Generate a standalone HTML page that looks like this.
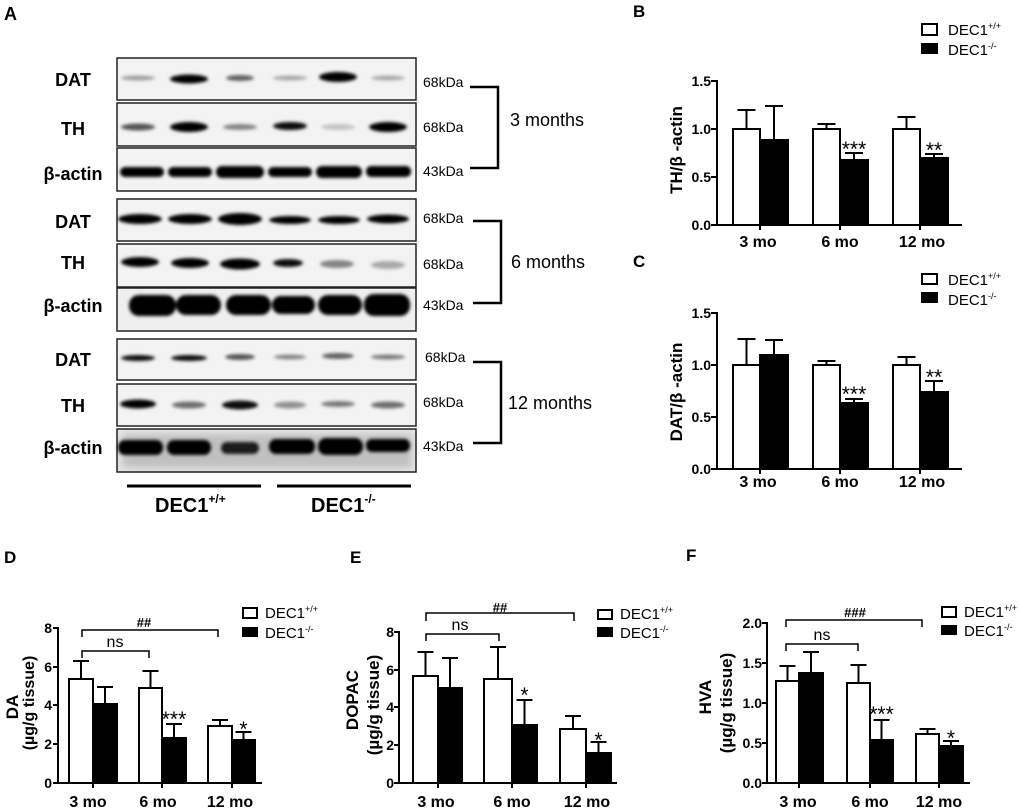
<!DOCTYPE html>
<html><head><meta charset="utf-8"><style>
html,body{margin:0;padding:0;background:#fff;}
svg{display:block;}
text{font-family:"Liberation Sans",Arial,sans-serif;fill:#000;}
.b{font-weight:bold;}
</style></head><body>
<svg width="1020" height="810" viewBox="0 0 1020 810" xmlns="http://www.w3.org/2000/svg">
<defs>
<filter id="bl" x="-50%" y="-150%" width="200%" height="400%"><feGaussianBlur stdDeviation="1.6"/></filter>
<filter id="bl2" x="-50%" y="-100%" width="200%" height="300%"><feGaussianBlur stdDeviation="4"/></filter>
</defs>

<!-- ============ PANEL A ============ -->
<text x="4" y="20" class="b" font-size="18">A</text>

<g stroke="#222" stroke-width="1.5" fill="#f3f3f3">
<rect x="117" y="58" width="299" height="42"/>
<rect x="117" y="103" width="299" height="43"/>
<rect x="117" y="148" width="299" height="43"/>
<rect x="117" y="199" width="299" height="42"/>
<rect x="117" y="244" width="299" height="43"/>
<rect x="117" y="288" width="299" height="43" fill="#efefef"/>
<rect x="117" y="339" width="299" height="41"/>
<rect x="117" y="384" width="299" height="42"/>
<rect x="117" y="429" width="299" height="43" fill="#e6e6e6"/>
</g>

<g filter="url(#bl)" fill="#000">
<!-- 3mo DAT -->
<ellipse cx="138" cy="78" rx="17" ry="2.5" opacity="0.35"/>
<ellipse cx="189" cy="79" rx="19" ry="4.5"/>
<ellipse cx="240" cy="78" rx="14" ry="3" opacity="0.6"/>
<ellipse cx="290" cy="78" rx="17" ry="2.5" opacity="0.3"/>
<ellipse cx="338" cy="77" rx="19" ry="5"/>
<ellipse cx="388" cy="78" rx="17" ry="2.5" opacity="0.3"/>
<!-- 3mo TH -->
<ellipse cx="138" cy="127" rx="17" ry="3.5" opacity="0.65"/>
<ellipse cx="189" cy="127" rx="19" ry="5"/>
<ellipse cx="240" cy="127" rx="17" ry="3" opacity="0.45"/>
<ellipse cx="290" cy="126" rx="17" ry="4" opacity="0.95"/>
<ellipse cx="338" cy="127" rx="17" ry="3" opacity="0.2"/>
<ellipse cx="388" cy="127" rx="19" ry="5"/>
<!-- 3mo actin -->
<rect x="120" y="167" width="44" height="10" rx="5"/>
<rect x="168" y="167" width="44" height="10" rx="5"/>
<rect x="216" y="166" width="48" height="12" rx="6"/>
<rect x="268" y="167" width="44" height="10" rx="5"/>
<rect x="316" y="166" width="46" height="12" rx="6"/>
<rect x="366" y="166" width="45" height="11" rx="5"/>
<!-- 6mo DAT -->
<ellipse cx="140" cy="219" rx="22" ry="5"/>
<ellipse cx="190" cy="219" rx="22" ry="5"/>
<ellipse cx="240" cy="219" rx="22" ry="6"/>
<ellipse cx="290" cy="220" rx="21" ry="4"/>
<ellipse cx="339" cy="220" rx="21" ry="4"/>
<ellipse cx="388" cy="219" rx="21" ry="4.5"/>
<!-- 6mo TH -->
<ellipse cx="140" cy="262" rx="19" ry="5"/>
<ellipse cx="190" cy="263" rx="19" ry="5"/>
<ellipse cx="240" cy="264" rx="20" ry="5.5"/>
<ellipse cx="288" cy="263" rx="15" ry="4" opacity="0.95"/>
<ellipse cx="337" cy="264" rx="17" ry="4" opacity="0.45"/>
<ellipse cx="388" cy="265" rx="17" ry="4" opacity="0.3"/>
<!-- 6mo actin -->
<rect x="129" y="295" width="47" height="21" rx="10"/>
<rect x="176" y="295" width="45" height="20" rx="10"/>
<rect x="226" y="295" width="45" height="20" rx="10"/>
<rect x="272" y="296" width="43" height="18" rx="9"/>
<rect x="318" y="295" width="44" height="20" rx="10"/>
<rect x="364" y="294" width="46" height="22" rx="10"/>
<!-- 12mo DAT -->
<ellipse cx="138" cy="358" rx="17" ry="3" opacity="0.95"/>
<ellipse cx="189" cy="358" rx="18" ry="3" opacity="0.95"/>
<ellipse cx="240" cy="357" rx="15" ry="3" opacity="0.65"/>
<ellipse cx="290" cy="357" rx="16" ry="2.5" opacity="0.45"/>
<ellipse cx="338" cy="356" rx="16" ry="3" opacity="0.6"/>
<ellipse cx="388" cy="357" rx="17" ry="2.5" opacity="0.5"/>
<!-- 12mo TH -->
<ellipse cx="138" cy="404" rx="18" ry="4.5"/>
<ellipse cx="189" cy="405" rx="17" ry="3.5" opacity="0.55"/>
<ellipse cx="240" cy="405" rx="18" ry="4.5" opacity="0.95"/>
<ellipse cx="290" cy="405" rx="16" ry="3.5" opacity="0.4"/>
<ellipse cx="338" cy="404" rx="17" ry="3" opacity="0.5"/>
<ellipse cx="388" cy="405" rx="17" ry="3.5" opacity="0.55"/>
<!-- 12mo actin -->
<rect x="118" y="440" width="45" height="15" rx="7"/>
<rect x="167" y="440" width="44" height="15" rx="7"/>
<rect x="221" y="442" width="38" height="12" rx="6" opacity="0.85"/>
<rect x="269" y="439" width="46" height="15" rx="7"/>
<rect x="318" y="438" width="45" height="17" rx="8"/>
<rect x="366" y="439" width="44" height="13" rx="6"/>
</g>
<g filter="url(#bl2)" fill="#000" opacity="0.16">
<rect x="122" y="434" width="290" height="34"/>
</g>

<g class="b" font-size="18" text-anchor="middle" font-weight="bold">
<text x="73" y="86">DAT</text>
<text x="73" y="135">TH</text>
<text x="73" y="180">β-actin</text>
<text x="73" y="228">DAT</text>
<text x="73" y="269">TH</text>
<text x="73" y="312">β-actin</text>
<text x="73" y="366">DAT</text>
<text x="73" y="412">TH</text>
<text x="73" y="454">β-actin</text>
</g>

<g font-size="14">
<text x="423" y="87">68kDa</text>
<text x="423" y="132">68kDa</text>
<text x="423" y="176">43kDa</text>
<text x="423" y="223">68kDa</text>
<text x="423" y="269">68kDa</text>
<text x="423" y="310">43kDa</text>
<text x="425" y="362">68kDa</text>
<text x="423" y="407">68kDa</text>
<text x="423" y="451">43kDa</text>
</g>

<g stroke="#000" stroke-width="2.5" fill="none">
<polyline points="470,87 498,87 498,168 470,168"/>
<polyline points="473,221 501,221 501,303 473,303"/>
<polyline points="473,362 501,362 501,443 473,443"/>
</g>
<g font-size="18">
<text x="510" y="126">3 months</text>
<text x="511" y="268">6 months</text>
<text x="508" y="409">12 months</text>
</g>

<g stroke="#000" stroke-width="3">
<line x1="127" y1="486" x2="261" y2="486"/>
<line x1="277" y1="486" x2="411" y2="486"/>
</g>
<text x="155" y="512" class="b" font-size="20">DEC1<tspan font-size="12" dy="-9">+/+</tspan></text>
<text x="311" y="512" class="b" font-size="20">DEC1<tspan font-size="12" dy="-9">-/-</tspan></text>

<!-- ============ PANEL B ============ -->
<text x="633" y="17" class="b" font-size="17">B</text>
<rect x="922" y="24" width="15" height="11" fill="#fff" stroke="#000" stroke-width="2"/>
<rect x="921" y="43" width="17" height="11" fill="#000"/>
<text x="948" y="35" font-size="15">DEC1<tspan font-size="9" dy="-6">+/+</tspan></text>
<text x="948" y="55" font-size="15">DEC1<tspan font-size="9" dy="-6">-/-</tspan></text>

<g stroke="#000" stroke-width="2" fill="none">
<line x1="717" y1="80" x2="717" y2="226"/>
<line x1="716" y1="225" x2="962" y2="225"/>
<line x1="711" y1="81" x2="717" y2="81"/>
<line x1="711" y1="129" x2="717" y2="129"/>
<line x1="711" y1="177" x2="717" y2="177"/>
<line x1="711" y1="225" x2="717" y2="225"/>
<line x1="760" y1="225" x2="760" y2="230"/>
<line x1="840" y1="225" x2="840" y2="230"/>
<line x1="920" y1="225" x2="920" y2="230"/>
<line x1="746.5" y1="129" x2="746.5" y2="110"/><line x1="737.5" y1="110" x2="755.5" y2="110"/>
<line x1="774" y1="140" x2="774" y2="106"/><line x1="765" y1="106" x2="783" y2="106"/>
<line x1="826.5" y1="129" x2="826.5" y2="124"/><line x1="817.5" y1="124" x2="835.5" y2="124"/>
<line x1="854" y1="160" x2="854" y2="153"/><line x1="845" y1="153" x2="863" y2="153"/>
<line x1="906.5" y1="129" x2="906.5" y2="117"/><line x1="897.5" y1="117" x2="915.5" y2="117"/>
<line x1="934" y1="158" x2="934" y2="154"/><line x1="925" y1="154" x2="943" y2="154"/>
</g>
<g stroke="#000" stroke-width="2">
<rect x="733" y="129" width="27" height="96" fill="#fff"/>
<rect x="760" y="140" width="28" height="85" fill="#000"/>
<rect x="813" y="129" width="27" height="96" fill="#fff"/>
<rect x="840" y="160" width="28" height="65" fill="#000"/>
<rect x="893" y="129" width="27" height="96" fill="#fff"/>
<rect x="920" y="158" width="28" height="67" fill="#000"/>
</g>
<g class="b" font-size="14" text-anchor="end" font-weight="bold">
<text x="711" y="86">1.5</text>
<text x="711" y="134">1.0</text>
<text x="711" y="182">0.5</text>
<text x="711" y="230">0.0</text>
</g>
<g class="b" font-size="16" text-anchor="middle" font-weight="bold">
<text x="758" y="247">3 mo</text>
<text x="840" y="247">6 mo</text>
<text x="922" y="247">12 mo</text>
</g>
<text transform="translate(682,150) rotate(-90)" text-anchor="middle" class="b" font-size="17" font-weight="bold">TH/β -actin</text>
<g font-size="21" text-anchor="middle">
<text x="854" y="156">***</text>
<text x="934" y="157">**</text>
</g>

<!-- ============ PANEL C ============ -->
<text x="633" y="267" class="b" font-size="17">C</text>
<rect x="922" y="274" width="15" height="10" fill="#fff" stroke="#000" stroke-width="2"/>
<rect x="921" y="292" width="17" height="11" fill="#000"/>
<text x="948" y="285" font-size="15">DEC1<tspan font-size="9" dy="-6">+/+</tspan></text>
<text x="948" y="305" font-size="15">DEC1<tspan font-size="9" dy="-6">-/-</tspan></text>

<g stroke="#000" stroke-width="2" fill="none">
<line x1="717" y1="312" x2="717" y2="470"/>
<line x1="716" y1="469" x2="962" y2="469"/>
<line x1="711" y1="313" x2="717" y2="313"/>
<line x1="711" y1="365" x2="717" y2="365"/>
<line x1="711" y1="417" x2="717" y2="417"/>
<line x1="711" y1="469" x2="717" y2="469"/>
<line x1="760" y1="469" x2="760" y2="474"/>
<line x1="840" y1="469" x2="840" y2="474"/>
<line x1="920" y1="469" x2="920" y2="474"/>
<line x1="746.5" y1="365" x2="746.5" y2="339"/><line x1="737.5" y1="339" x2="755.5" y2="339"/>
<line x1="774" y1="355" x2="774" y2="340"/><line x1="765" y1="340" x2="783" y2="340"/>
<line x1="826.5" y1="365" x2="826.5" y2="361"/><line x1="817.5" y1="361" x2="835.5" y2="361"/>
<line x1="854" y1="403" x2="854" y2="399"/><line x1="845" y1="399" x2="863" y2="399"/>
<line x1="906.5" y1="365" x2="906.5" y2="357"/><line x1="897.5" y1="357" x2="915.5" y2="357"/>
<line x1="934" y1="392" x2="934" y2="381"/><line x1="925" y1="381" x2="943" y2="381"/>
</g>
<g stroke="#000" stroke-width="2">
<rect x="733" y="365" width="27" height="104" fill="#fff"/>
<rect x="760" y="355" width="28" height="114" fill="#000"/>
<rect x="813" y="365" width="27" height="104" fill="#fff"/>
<rect x="840" y="403" width="28" height="66" fill="#000"/>
<rect x="893" y="365" width="27" height="104" fill="#fff"/>
<rect x="920" y="392" width="28" height="77" fill="#000"/>
</g>
<g class="b" font-size="14" text-anchor="end" font-weight="bold">
<text x="711" y="318">1.5</text>
<text x="711" y="370">1.0</text>
<text x="711" y="422">0.5</text>
<text x="711" y="474">0.0</text>
</g>
<g class="b" font-size="16" text-anchor="middle" font-weight="bold">
<text x="758" y="487">3 mo</text>
<text x="840" y="487">6 mo</text>
<text x="922" y="487">12 mo</text>
</g>
<text transform="translate(682,392) rotate(-90)" text-anchor="middle" class="b" font-size="17" font-weight="bold">DAT/β -actin</text>
<g font-size="21" text-anchor="middle">
<text x="854" y="401">***</text>
<text x="934" y="384">**</text>
</g>

<!-- ============ PANEL D ============ -->
<text x="4" y="563" class="b" font-size="17">D</text>
<rect x="243" y="608" width="14" height="10" fill="#fff" stroke="#000" stroke-width="2"/>
<rect x="242" y="627" width="16" height="10" fill="#000"/>
<text x="265" y="618" font-size="15">DEC1<tspan font-size="9" dy="-6">+/+</tspan></text>
<text x="265" y="638" font-size="15">DEC1<tspan font-size="9" dy="-6">-/-</tspan></text>

<g stroke="#000" stroke-width="2" fill="none">
<line x1="58" y1="627" x2="58" y2="784"/>
<line x1="57" y1="783" x2="262" y2="783"/>
<line x1="53" y1="628" x2="58" y2="628"/>
<line x1="53" y1="667" x2="58" y2="667"/>
<line x1="53" y1="705" x2="58" y2="705"/>
<line x1="53" y1="744" x2="58" y2="744"/>
<line x1="53" y1="783" x2="58" y2="783"/>
<line x1="93" y1="783" x2="93" y2="788"/>
<line x1="162" y1="783" x2="162" y2="788"/>
<line x1="232" y1="783" x2="232" y2="788"/>
<line x1="81" y1="679" x2="81" y2="661"/><line x1="73" y1="661" x2="89" y2="661"/>
<line x1="105" y1="704" x2="105" y2="687"/><line x1="97" y1="687" x2="113" y2="687"/>
<line x1="150.5" y1="688" x2="150.5" y2="671"/><line x1="142.5" y1="671" x2="158.5" y2="671"/>
<line x1="174" y1="738" x2="174" y2="724"/><line x1="166" y1="724" x2="182" y2="724"/>
<line x1="220" y1="726" x2="220" y2="720"/><line x1="212" y1="720" x2="228" y2="720"/>
<line x1="243.5" y1="740" x2="243.5" y2="732"/><line x1="235.5" y1="732" x2="251.5" y2="732"/>
<polyline points="82,637 82,630 218,630 218,637" stroke-width="1.5"/>
<polyline points="82,658 82,651 149,651 149,658" stroke-width="1.5"/>
</g>
<g stroke="#000" stroke-width="2">
<rect x="69" y="679" width="24" height="104" fill="#fff"/>
<rect x="93" y="704" width="24" height="79" fill="#000"/>
<rect x="139" y="688" width="23" height="95" fill="#fff"/>
<rect x="162" y="738" width="24" height="45" fill="#000"/>
<rect x="208" y="726" width="24" height="57" fill="#fff"/>
<rect x="232" y="740" width="23" height="43" fill="#000"/>
</g>
<g class="b" font-size="14" text-anchor="end" font-weight="bold">
<text x="52" y="633">8</text>
<text x="52" y="672">6</text>
<text x="52" y="710">4</text>
<text x="52" y="749">2</text>
<text x="52" y="788">0</text>
</g>
<g class="b" font-size="16" text-anchor="middle" font-weight="bold">
<text x="88" y="807">3 mo</text>
<text x="158" y="807">6 mo</text>
<text x="230" y="807">12 mo</text>
</g>
<text x="144" y="627" font-size="13" text-anchor="middle" class="b" font-weight="bold">##</text>
<text x="115" y="647" font-size="16" text-anchor="middle">ns</text>
<text transform="translate(18,707) rotate(-90)" text-anchor="middle" class="b" font-size="17" font-weight="bold">DA</text>
<text transform="translate(34,703) rotate(-90)" text-anchor="middle" class="b" font-size="16" font-weight="bold">(µg/g tissue)</text>
<g font-size="21" text-anchor="middle">
<text x="174" y="726">***</text>
<text x="243.5" y="736">*</text>
</g>

<!-- ============ PANEL E ============ -->
<text x="350" y="563" class="b" font-size="17">E</text>
<rect x="598" y="610" width="14" height="9" fill="#fff" stroke="#000" stroke-width="2"/>
<rect x="597" y="627" width="16" height="10" fill="#000"/>
<text x="620" y="619" font-size="15">DEC1<tspan font-size="9" dy="-6">+/+</tspan></text>
<text x="620" y="638" font-size="15">DEC1<tspan font-size="9" dy="-6">-/-</tspan></text>

<g stroke="#000" stroke-width="2" fill="none">
<line x1="399" y1="631" x2="399" y2="784"/>
<line x1="398" y1="783" x2="617" y2="783"/>
<line x1="394" y1="632" x2="399" y2="632"/>
<line x1="394" y1="670" x2="399" y2="670"/>
<line x1="394" y1="707" x2="399" y2="707"/>
<line x1="394" y1="745" x2="399" y2="745"/>
<line x1="394" y1="783" x2="399" y2="783"/>
<line x1="438" y1="783" x2="438" y2="788"/>
<line x1="512" y1="783" x2="512" y2="788"/>
<line x1="586" y1="783" x2="586" y2="788"/>
<line x1="425.5" y1="676" x2="425.5" y2="652"/><line x1="417.5" y1="652" x2="433.5" y2="652"/>
<line x1="450" y1="688" x2="450" y2="658"/><line x1="442" y1="658" x2="458" y2="658"/>
<line x1="498" y1="679" x2="498" y2="647"/><line x1="490" y1="647" x2="506" y2="647"/>
<line x1="524.5" y1="725" x2="524.5" y2="700"/><line x1="516.5" y1="700" x2="532.5" y2="700"/>
<line x1="573" y1="729" x2="573" y2="716"/><line x1="565" y1="716" x2="581" y2="716"/>
<line x1="598.5" y1="753" x2="598.5" y2="742"/><line x1="590.5" y1="742" x2="606.5" y2="742"/>
<polyline points="426,621 426,613 574,613 574,621" stroke-width="1.5"/>
<polyline points="426,641 426,634 499,634 499,641" stroke-width="1.5"/>
</g>
<g stroke="#000" stroke-width="2">
<rect x="413" y="676" width="25" height="107" fill="#fff"/>
<rect x="438" y="688" width="24" height="95" fill="#000"/>
<rect x="484" y="679" width="28" height="104" fill="#fff"/>
<rect x="512" y="725" width="25" height="58" fill="#000"/>
<rect x="560" y="729" width="26" height="54" fill="#fff"/>
<rect x="586" y="753" width="25" height="30" fill="#000"/>
</g>
<g class="b" font-size="14" text-anchor="end" font-weight="bold">
<text x="394" y="637">8</text>
<text x="394" y="675">6</text>
<text x="394" y="712">4</text>
<text x="394" y="750">2</text>
<text x="394" y="788">0</text>
</g>
<g class="b" font-size="16" text-anchor="middle" font-weight="bold">
<text x="436" y="807">3 mo</text>
<text x="512" y="807">6 mo</text>
<text x="587" y="807">12 mo</text>
</g>
<text x="500" y="612" font-size="13" text-anchor="middle" class="b" font-weight="bold">##</text>
<text x="460" y="630" font-size="16" text-anchor="middle">ns</text>
<text transform="translate(358,700) rotate(-90)" text-anchor="middle" class="b" font-size="17" font-weight="bold">DOPAC</text>
<text transform="translate(379,705) rotate(-90)" text-anchor="middle" class="b" font-size="17" font-weight="bold">(µg/g tissue)</text>
<g font-size="21" text-anchor="middle">
<text x="524.5" y="702">*</text>
<text x="598.5" y="747">*</text>
</g>

<!-- ============ PANEL F ============ -->
<text x="686" y="561" class="b" font-size="17">F</text>
<rect x="942" y="607" width="14" height="10" fill="#fff" stroke="#000" stroke-width="2"/>
<rect x="941" y="625" width="16" height="10" fill="#000"/>
<text x="964" y="617" font-size="15">DEC1<tspan font-size="9" dy="-6">+/+</tspan></text>
<text x="964" y="636" font-size="15">DEC1<tspan font-size="9" dy="-6">-/-</tspan></text>

<g stroke="#000" stroke-width="2" fill="none">
<line x1="767" y1="622" x2="767" y2="784"/>
<line x1="766" y1="783" x2="970" y2="783"/>
<line x1="762" y1="623" x2="767" y2="623"/>
<line x1="762" y1="663" x2="767" y2="663"/>
<line x1="762" y1="703" x2="767" y2="703"/>
<line x1="762" y1="743" x2="767" y2="743"/>
<line x1="762" y1="783" x2="767" y2="783"/>
<line x1="799" y1="783" x2="799" y2="788"/>
<line x1="870" y1="783" x2="870" y2="788"/>
<line x1="939" y1="783" x2="939" y2="788"/>
<line x1="787.5" y1="681" x2="787.5" y2="666"/><line x1="779.5" y1="666" x2="795.5" y2="666"/>
<line x1="811" y1="673" x2="811" y2="652"/><line x1="803" y1="652" x2="819" y2="652"/>
<line x1="858.5" y1="683" x2="858.5" y2="665"/><line x1="850.5" y1="665" x2="866.5" y2="665"/>
<line x1="881.5" y1="740" x2="881.5" y2="720"/><line x1="873.5" y1="720" x2="889.5" y2="720"/>
<line x1="927.5" y1="734" x2="927.5" y2="729"/><line x1="919.5" y1="729" x2="935.5" y2="729"/>
<line x1="951" y1="746" x2="951" y2="741"/><line x1="943" y1="741" x2="959" y2="741"/>
<polyline points="786,627 786,620 922,620 922,627" stroke-width="1.5"/>
<polyline points="786,651 786,644 858,644 858,651" stroke-width="1.5"/>
</g>
<g stroke="#000" stroke-width="2">
<rect x="776" y="681" width="23" height="102" fill="#fff"/>
<rect x="799" y="673" width="24" height="110" fill="#000"/>
<rect x="847" y="683" width="23" height="100" fill="#fff"/>
<rect x="870" y="740" width="23" height="43" fill="#000"/>
<rect x="916" y="734" width="23" height="49" fill="#fff"/>
<rect x="939" y="746" width="24" height="37" fill="#000"/>
</g>
<g class="b" font-size="14" text-anchor="end" font-weight="bold">
<text x="762" y="628">2.0</text>
<text x="762" y="668">1.5</text>
<text x="762" y="708">1.0</text>
<text x="762" y="748">0.5</text>
<text x="762" y="788">0.0</text>
</g>
<g class="b" font-size="16" text-anchor="middle" font-weight="bold">
<text x="798" y="807">3 mo</text>
<text x="870" y="807">6 mo</text>
<text x="939" y="807">12 mo</text>
</g>
<text x="855" y="617" font-size="13" text-anchor="middle" class="b" font-weight="bold">###</text>
<text x="822" y="640" font-size="16" text-anchor="middle">ns</text>
<text transform="translate(711,697) rotate(-90)" text-anchor="middle" class="b" font-size="17" font-weight="bold">HVA</text>
<text transform="translate(732,703) rotate(-90)" text-anchor="middle" class="b" font-size="17" font-weight="bold">(µg/g tissue)</text>
<g font-size="21" text-anchor="middle">
<text x="881.5" y="721">***</text>
<text x="951" y="745">*</text>
</g>
</svg>
</body></html>
